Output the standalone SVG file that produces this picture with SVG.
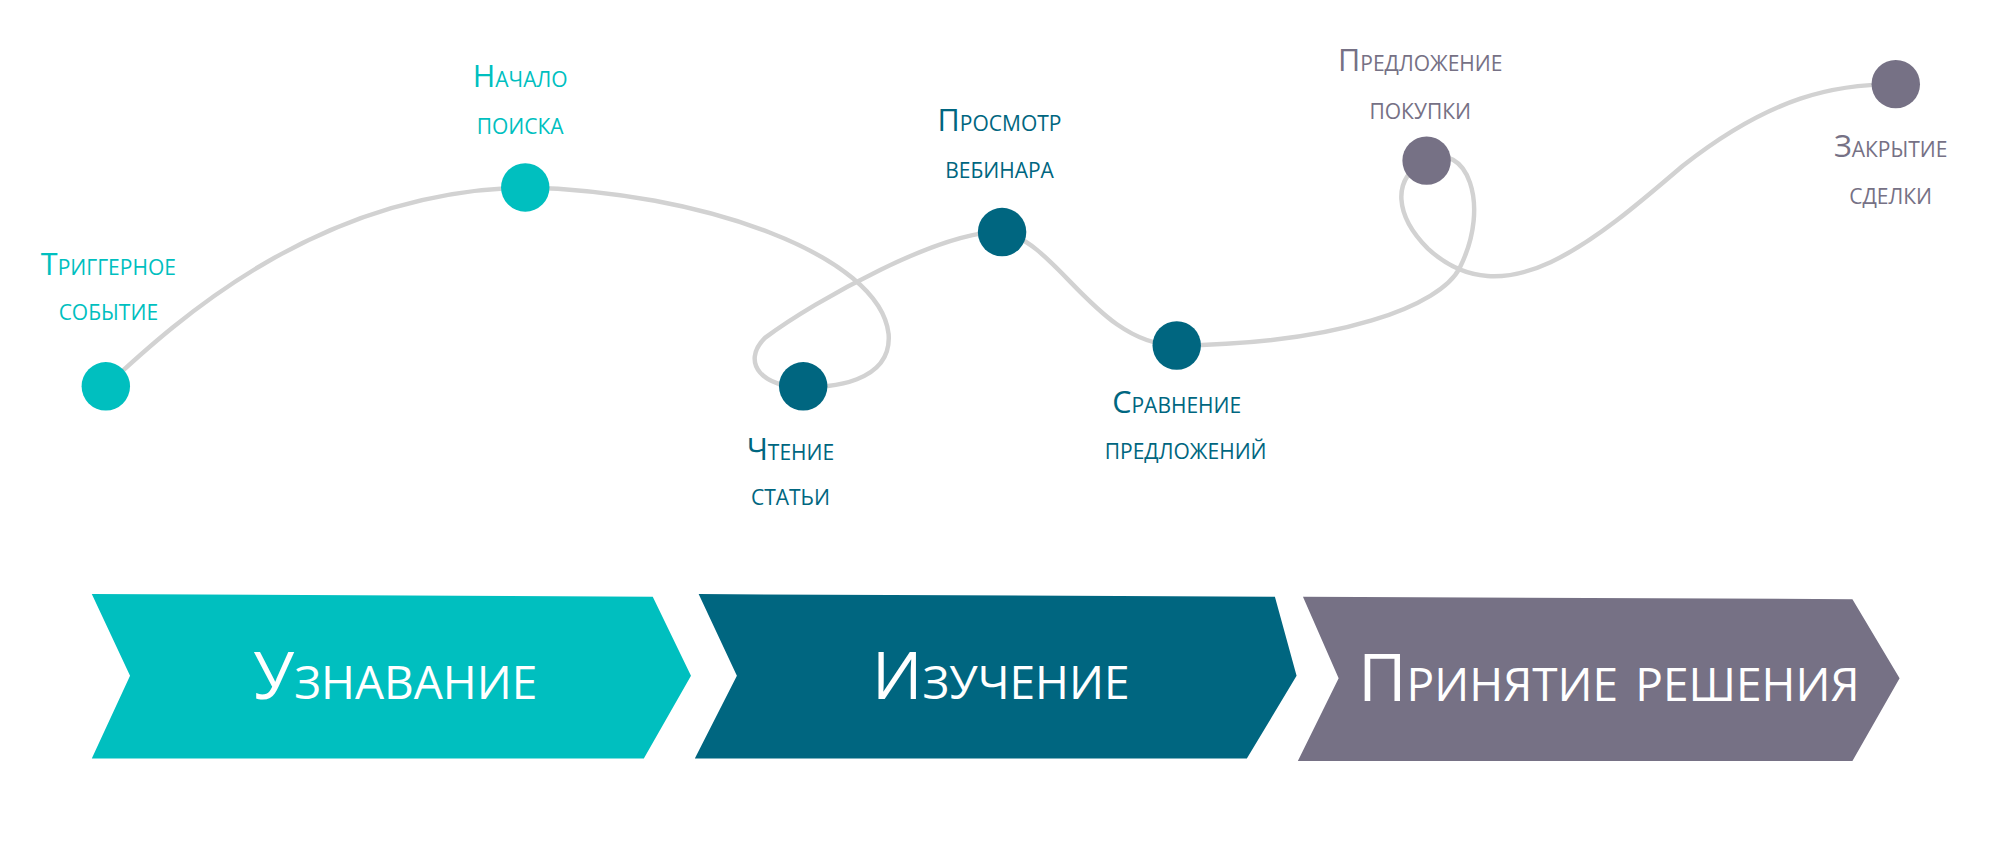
<svg xmlns="http://www.w3.org/2000/svg" width="1999" height="855" viewBox="0 0 1999 855">
<style>
.lbl{font-family:"Open Sans","Liberation Sans",sans-serif;font-size:24px;font-variant:small-caps;text-anchor:middle}
.big{font-family:"Open Sans","Liberation Sans",sans-serif;font-size:52px;font-variant:small-caps;text-anchor:middle;fill:#fff}
.t1{fill:#00BFBF}.t2{fill:#006680}.t3{fill:#767185}
</style>
<rect width="1999" height="855" fill="#fff"/>
<g transform="scale(1.2749)">
<g id="connectors">
<path d="M83,303 C140,250 250,150 412,147 C550,150 690,200 697,262 C700,300 650,305 630,303 C600,305 580,285 600,265 C640,235 740,180 786,182 C830,190 860,270 923,271 C1050,270 1130,240 1145,210 C1170,160 1150,110 1119,126 C1090,140 1095,170 1120,195 C1180,250 1250,190 1320,130 C1390,75 1440,66 1487,66" fill="none" stroke="#d2d2d2" stroke-width="3.5"/>
</g>
<g id="n1"><circle cx="83" cy="303" r="19" class="t1"/><text class="lbl t1" x="85" y="216">Триггерное</text><text class="lbl t1" x="85" y="251">событие</text></g>
<g id="n2"><circle cx="412" cy="147" r="19" class="t1"/><text class="lbl t1" x="408" y="68">Начало</text><text class="lbl t1" x="408" y="105">поиска</text></g>
<g id="n3"><circle cx="630" cy="303" r="19" class="t2"/><text class="lbl t2" x="620" y="361">Чтение</text><text class="lbl t2" x="620" y="396">статьи</text></g>
<g id="n4"><circle cx="786" cy="182" r="19" class="t2"/><text class="lbl t2" x="784" y="103">Просмотр</text><text class="lbl t2" x="784" y="140">вебинара</text></g>
<g id="n5"><circle cx="923" cy="271" r="19" class="t2"/><text class="lbl t2" x="923" y="324">Сравнение</text><text class="lbl t2" x="930" y="360">предложений</text></g>
<g id="n6"><circle cx="1119" cy="126" r="19" class="t3"/><text class="lbl t3" x="1114" y="56">Предложение</text><text class="lbl t3" x="1114" y="93">покупки</text></g>
<g id="n7"><circle cx="1487" cy="66" r="19" class="t3"/><text class="lbl t3" x="1483" y="123">Закрытие</text><text class="lbl t3" x="1483" y="160">сделки</text></g>
<g id="s1"><polygon points="72,466 512,468 542,530 505,595 72,595 102,530" class="t1"/><text class="big" x="310" y="548">Узнавание</text></g>
<g id="s2"><polygon points="548,466 1000,468 1017,530 978,595 545,595 578,530" class="t2"/><text class="big" x="785" y="548">Изучение</text></g>
<g id="s3"><polygon points="1022,468 1453,470 1490,532 1453,597 1018,597 1050,532" class="t3"/><text class="big" x="1262" y="550">Принятие решения</text></g>
</g>
</svg>
